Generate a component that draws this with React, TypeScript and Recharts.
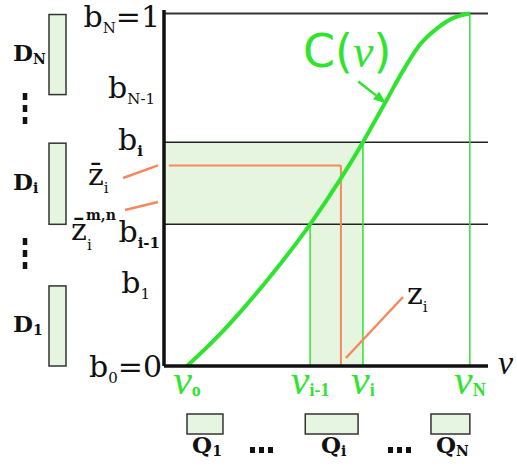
import React from "react";
import { ComposedChart, Line, XAxis, YAxis, ReferenceLine, ReferenceArea } from "recharts";

// C(v): companding curve, v on the horizontal axis, C on the vertical
const curveV = [7.1, 16.4, 25.6, 34.9, 45.1, 54.3, 61.4, 68.2, 73.8, 79.0, 84.3, 89.2, 94.4];
const curveC = [0, 0.082, 0.175, 0.278, 0.402, 0.528, 0.635, 0.746, 0.838, 0.912, 0.958, 0.987, 1];

// decision levels b_k on the C axis
const bSubs = ["0", "1", "i-1", "i", "N-1", "N"];
const bValues = [0, 0.23, 0.402, 0.635, 0.77, 1];

// matching points v_k on the v axis
const vSubs = ["o", "1", "i-1", "i", "N-1", "N"];
const vValues = [7.1, 18.2, 45.1, 61.4, 82.4, 94.4];
const vTickSubs = ["o", "i-1", "i", "N"];

const zBar = 0.569; // reconstruction level z̄_i
const zI = 54.6; // z_i = C^-1(z̄_i)

const W = 517;
const H = 471;
const MARGIN = { top: 10, right: 29, bottom: 65, left: 104 };
const Y_AXIS_W = 60;
const X_AXIS_H = 40;
const X_DOMAIN = [0, 100];
const Y_DOMAIN = [0, 1.01];
const PLOT = {
  left: MARGIN.left + Y_AXIS_W,
  right: W - MARGIN.right,
  top: MARGIN.top,
  bottom: H - MARGIN.bottom - X_AXIS_H,
};
const sx = (v: number) => PLOT.left + ((v - X_DOMAIN[0]) / (X_DOMAIN[1] - X_DOMAIN[0])) * (PLOT.right - PLOT.left);
const sy = (c: number) => PLOT.bottom - ((c - Y_DOMAIN[0]) / (Y_DOMAIN[1] - Y_DOMAIN[0])) * (PLOT.bottom - PLOT.top);

const GREEN = "#2fe42f";
const ORANGE = "#f4895f";
const FILL = "#e6f5df";
const SERIF = "DejaVu Serif";

const data = curveV.map((v, i) => ({ v, c: curveC[i] }));
const bv = (s: string) => bValues[bSubs.indexOf(s)];
const vv = (s: string) => vValues[vSubs.indexOf(s)];

const bTickStyle: Record<string, { dx: number; dy: number; bold: boolean; tail?: string }> = {
  "0": { dx: 2, dy: 11, bold: false, tail: "=0" },
  "1": { dx: -10, dy: 8, bold: false },
  "i-1": { dx: 0, dy: 18, bold: true },
  "i": { dx: -17, dy: 8, bold: true },
  "N-1": { dx: -5, dy: 3, bold: false },
  "N": { dx: 0, dy: 13.5, bold: false, tail: "=1" },
};

const BTick = (props: any) => {
  const { x, y, payload } = props;
  const sub = bSubs[bValues.indexOf(payload.value)];
  const s = bTickStyle[sub];
  if (!s) return null;
  return (
    <text x={x + s.dx} y={y + s.dy} textAnchor="end" fontFamily={SERIF} fontSize={30} fill="#111">
      <tspan>b</tspan>
      <tspan fontSize={15} dy={6} fontWeight={s.bold ? "bold" : "normal"}>{sub}</tspan>
      {s.tail && <tspan dy={-6}>{s.tail}</tspan>}
    </text>
  );
};

const VTick = (props: any) => {
  const { x, y, payload } = props;
  const sub = vSubs[vValues.indexOf(payload.value)];
  return (
    <text x={x} y={y + 28} textAnchor="middle" fontFamily="Liberation Serif" fill={GREEN}>
      <tspan fontStyle="italic" fontSize={42}>ν</tspan>
      <tspan fontSize={18} fontWeight="bold" dy={2}>{sub}</tspan>
    </text>
  );
};

// side boxes: D_k spans [b_{k-1}, b_k], Q_k spans [v_{k-1}, v_k]
const dBoxes = [
  { label: "N", lo: bv("N-1"), hi: bv("N") },
  { label: "i", lo: bv("i-1"), hi: bv("i") },
  { label: "1", lo: bv("0"), hi: bv("1") },
];
const qBoxes = [
  { label: "1", lo: vv("o"), hi: vv("1") },
  { label: "i", lo: vv("i-1") - 1.5, hi: vv("i") - 1.5 },
  { label: "N", lo: vv("N-1"), hi: vv("N") },
];

const Annotations = () => {
  const tip = { x: sx(68.6), y: sy(0.745) };
  const tail = { x: tip.x - 28, y: tip.y - 22 };
  const len = Math.hypot(tip.x - tail.x, tip.y - tail.y);
  const ux = (tip.x - tail.x) / len;
  const uy = (tip.y - tail.y) / len;
  const bx = tip.x - ux * 13;
  const by = tip.y - uy * 13;
  return (
    <svg width={W} height={H} style={{ position: "absolute", left: 0, top: 0, pointerEvents: "none" }}>
      {dBoxes.map((d) => {
        const top = sy(d.hi);
        const bot = sy(d.lo);
        return (
          <g key={"d" + d.label}>
            <rect x={49} y={top + 1} width={17} height={bot - top - 1} fill={FILL} stroke="#333" strokeWidth={1.5} />
            <text x={13} y={(top + bot) / 2 + 7} fontFamily={SERIF} fontWeight="bold" fontSize={23} fill="#111">
              D<tspan fontSize={14} dy={3}>{d.label}</tspan>
            </text>
          </g>
        );
      })}
      <line x1={25} y1={93} x2={25} y2={126} stroke="#111" strokeWidth={4.5} strokeDasharray="7 5" />
      <line x1={25} y1={238} x2={25} y2={271} stroke="#111" strokeWidth={4.5} strokeDasharray="7 5" />

      {qBoxes.map((q) => {
        const l = sx(q.lo);
        const r = sx(q.hi);
        return (
          <g key={"q" + q.label}>
            <rect x={l} y={414} width={r - l} height={20} fill={FILL} stroke="#333" strokeWidth={1.5} />
            <text x={(l + r) / 2 + 2} y={453} textAnchor="middle" fontFamily={SERIF} fontWeight="bold" fontSize={23} fill="#111">
              Q<tspan fontSize={14} dy={3}>{q.label}</tspan>
            </text>
          </g>
        );
      })}
      {[250, 388].map((x0) =>
        [0, 9, 18].map((d) => <rect key={x0 + d} x={x0 + d} y={447} width={5} height={6} fill="#111" />)
      )}

      {/* z̄_i and z̄_i^{m,n} with leaders */}
      <line x1={123} y1={178} x2={158} y2={sy(zBar)} stroke={ORANGE} strokeWidth={2.5} />
      <text x={88} y={185} fontFamily={SERIF} fontSize={30} fill="#111">
        z̄<tspan fontSize={15} dy={8}>i</tspan>
      </text>
      <line x1={125} y1={210} x2={158} y2={202} stroke={ORANGE} strokeWidth={2.5} />
      <text x={71} y={240} fontFamily={SERIF} fontSize={30} fill="#111">z̄</text>
      <text x={86} y={220} fontFamily={SERIF} fontSize={14} fontWeight="bold" fill="#111">m,n</text>
      <text x={87} y={250} fontFamily={SERIF} fontSize={15} fill="#111">i</text>

      {/* z_i with leader */}
      <line x1={sx(zI) + 5} y1={358} x2={403} y2={297} stroke={ORANGE} strokeWidth={2.5} />
      <text x={407} y={304} fontFamily={SERIF} fontSize={30} fill="#111">
        z<tspan fontSize={15} dy={8}>i</tspan>
      </text>

      {/* C(v) label and arrow */}
      <text x={303} y={67} fill={GREEN} fontFamily="DejaVu Sans" fontSize={46}>
        C(<tspan fontFamily="Liberation Serif" fontStyle="italic">ν</tspan>)
      </text>
      <line x1={tail.x} y1={tail.y} x2={bx} y2={by} stroke={GREEN} strokeWidth={2.5} />
      <polygon
        points={`${tip.x},${tip.y} ${bx - uy * 5},${by + ux * 5} ${bx + uy * 5},${by - ux * 5}`}
        fill={GREEN}
      />

      {/* horizontal axis name */}
      <text x={498} y={374} fontFamily="Liberation Serif" fontStyle="italic" fontSize={34} fill="#111">ν</text>
    </svg>
  );
};

export default function App() {
  return (
    <div style={{ position: "absolute", left: 0, top: 0, width: W, height: H, background: "#fff" }}>
      <ComposedChart width={W} height={H} data={data} margin={MARGIN}>
        <XAxis
          dataKey="v"
          type="number"
          domain={X_DOMAIN}
          ticks={vTickSubs.map(vv)}
          tick={<VTick />}
          tickLine={false}
          tickSize={0}
          tickMargin={0}
          height={X_AXIS_H}
          axisLine={{ stroke: "#111", strokeWidth: 3.5 }}
          interval={0}
        />
        <YAxis
          type="number"
          domain={Y_DOMAIN}
          ticks={bValues}
          tick={<BTick />}
          tickLine={false}
          tickSize={0}
          tickMargin={4}
          width={Y_AXIS_W}
          axisLine={{ stroke: "#111", strokeWidth: 3.5 }}
          interval={0}
        />
        <ReferenceArea x1={0} x2={vv("i")} y1={bv("i-1")} y2={bv("i")} fill={FILL} fillOpacity={1} stroke="none" />
        <ReferenceArea x1={vv("i-1")} x2={vv("i")} y1={0} y2={bv("i-1")} fill={FILL} fillOpacity={1} stroke="none" />
        <ReferenceLine y={bv("N")} stroke="#333" strokeWidth={1.8} />
        <ReferenceLine y={bv("i")} stroke="#222" strokeWidth={1.5} />
        <ReferenceLine y={bv("i-1")} stroke="#222" strokeWidth={1.5} />
        <ReferenceLine segment={[{ x: vv("i-1"), y: 0 }, { x: vv("i-1"), y: bv("i-1") }]} stroke={GREEN} strokeWidth={1.5} />
        <ReferenceLine segment={[{ x: vv("i"), y: 0 }, { x: vv("i"), y: bv("i") }]} stroke={GREEN} strokeWidth={1.5} />
        <ReferenceLine segment={[{ x: vv("N"), y: 0 }, { x: vv("N"), y: bv("N") }]} stroke={GREEN} strokeWidth={1.5} />
        <ReferenceLine segment={[{ x: 1.5, y: zBar }, { x: zI, y: zBar }]} stroke={ORANGE} strokeWidth={2} />
        <ReferenceLine segment={[{ x: zI, y: zBar }, { x: zI, y: 0 }]} stroke={ORANGE} strokeWidth={2} />
        <Line type="monotone" dataKey="c" stroke={GREEN} strokeWidth={4} dot={false} isAnimationActive={false} />
      </ComposedChart>
      <Annotations />
    </div>
  );
}
